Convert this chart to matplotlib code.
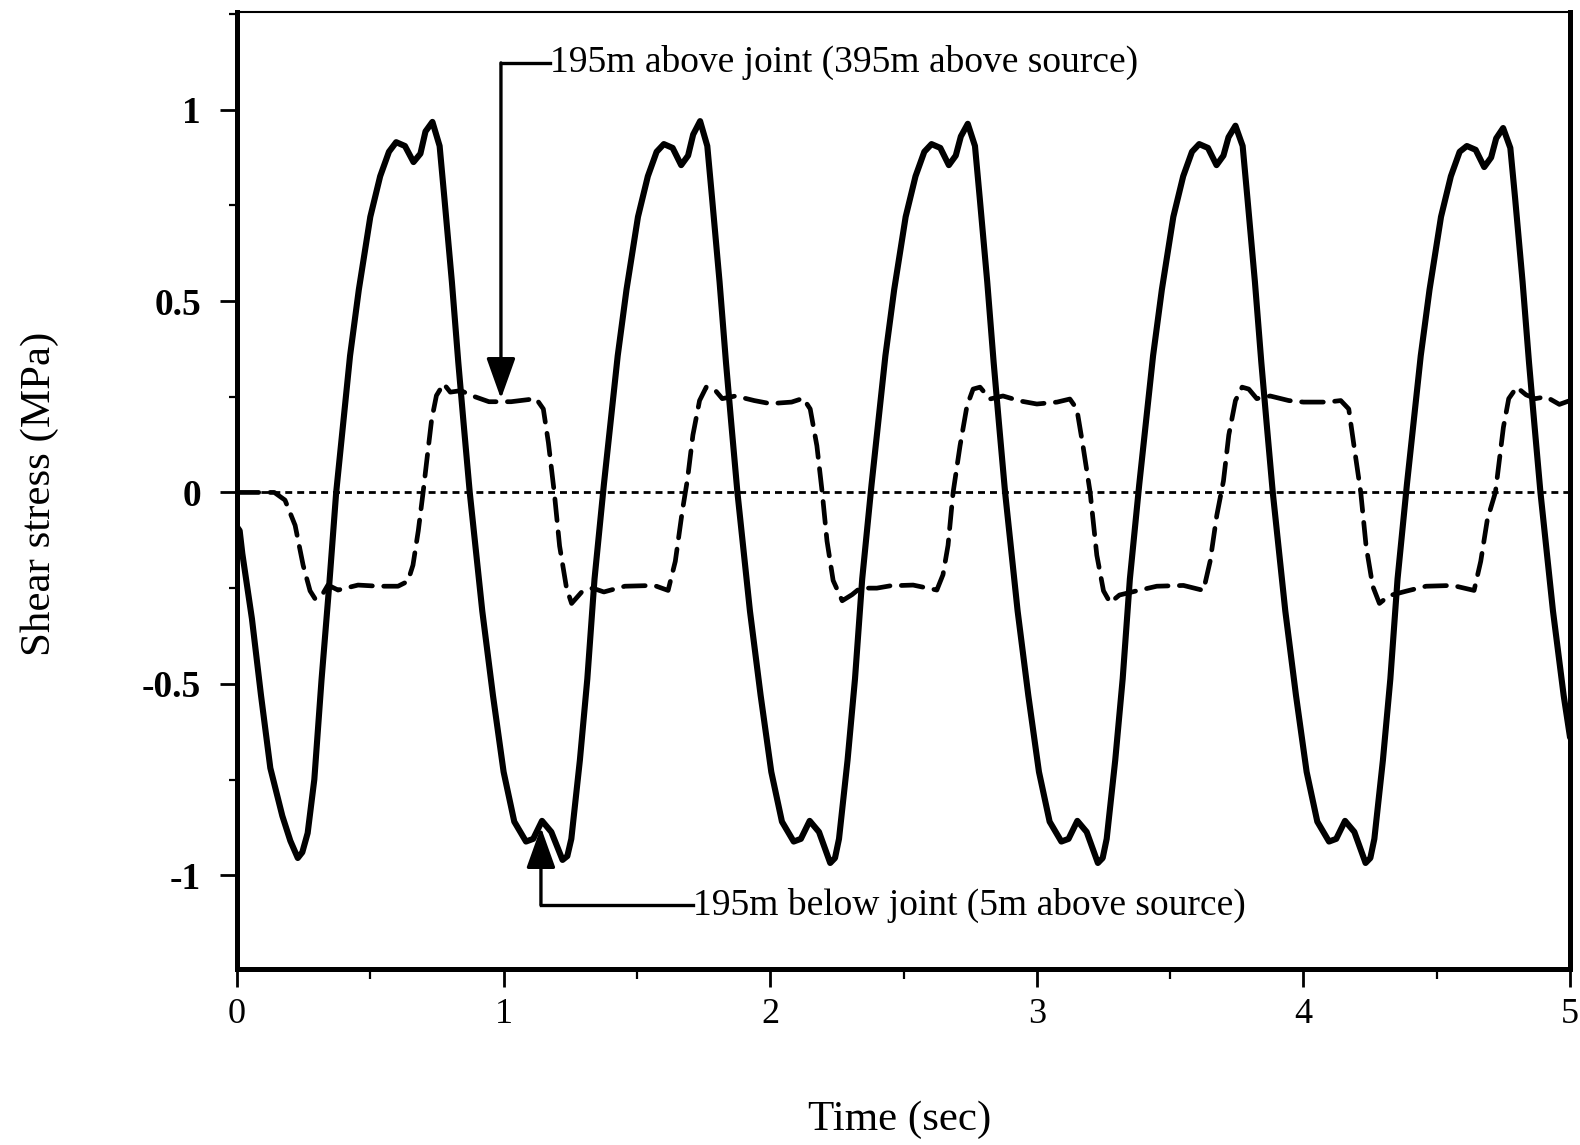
import matplotlib
matplotlib.use("Agg")
import matplotlib.pyplot as plt
from matplotlib.ticker import MultipleLocator

plt.rcParams['font.family'] = ['Liberation Serif', 'DejaVu Serif']

# ---------------- data ----------------
# Solid curve: 195m below joint (5m above source)
solid_t_0 = [0.0, 0.01, 0.02, 0.056, 0.09, 0.125, 0.17, 0.20, 0.228, 0.245, 0.265, 0.29, 0.317, 0.345,
             0.372, 0.424, 0.457, 0.50, 0.537, 0.57, 0.597, 0.63, 0.662, 0.688, 0.707, 0.733, 0.76,
             0.778, 0.806, 0.83, 0.85, 0.873, 0.92, 0.96, 1.00, 1.04]
solid_v_0 = [-0.09, -0.10, -0.16, -0.33, -0.53, -0.72, -0.845, -0.91, -0.955, -0.94, -0.89, -0.75, -0.49, -0.25,
             0.0, 0.357, 0.53, 0.72, 0.826, 0.89, 0.915, 0.905, 0.863, 0.885, 0.943, 0.968, 0.905,
             0.768, 0.55, 0.34, 0.18, 0.0, -0.31, -0.53, -0.73, -0.86]
solid_t_1 = [1.084, 1.111, 1.144, 1.179, 1.221, 1.239, 1.254, 1.286, 1.314, 1.341, 1.376, 1.428, 1.461,
             1.504, 1.541, 1.574, 1.601, 1.634, 1.666, 1.692, 1.711, 1.737, 1.764, 1.782, 1.81, 1.834,
             1.854, 1.877, 1.924, 1.964, 2.004, 2.044]
solid_v_1 = [-0.912, -0.905, -0.858, -0.887, -0.96, -0.95, -0.905, -0.70, -0.487, -0.226, 0.02, 0.357, 0.53,
             0.72, 0.826, 0.89, 0.91, 0.90, 0.855, 0.88, 0.935, 0.97, 0.905, 0.768, 0.55, 0.34,
             0.18, 0.0, -0.31, -0.53, -0.73, -0.86]
solid_t_2 = [2.088, 2.115, 2.148, 2.183, 2.225, 2.243, 2.258, 2.29, 2.318, 2.345, 2.38, 2.432, 2.465,
             2.508, 2.545, 2.578, 2.605, 2.638, 2.67, 2.696, 2.715, 2.741, 2.768, 2.786, 2.814, 2.838,
             2.858, 2.881, 2.928, 2.968, 3.008, 3.048]
solid_v_2 = [-0.912, -0.905, -0.858, -0.887, -0.968, -0.955, -0.905, -0.70, -0.487, -0.226, 0.02, 0.357, 0.53,
             0.72, 0.826, 0.89, 0.91, 0.90, 0.855, 0.88, 0.93, 0.963, 0.905, 0.768, 0.55, 0.34,
             0.18, 0.0, -0.31, -0.53, -0.73, -0.86]
solid_t_3 = [3.092, 3.119, 3.152, 3.187, 3.229, 3.247, 3.262, 3.294, 3.322, 3.349, 3.384, 3.436, 3.469,
             3.512, 3.549, 3.582, 3.609, 3.642, 3.674, 3.70, 3.719, 3.745, 3.772, 3.79, 3.818, 3.842,
             3.862, 3.885, 3.932, 3.972, 4.012, 4.052]
solid_v_3 = [-0.912, -0.905, -0.858, -0.887, -0.968, -0.955, -0.905, -0.70, -0.487, -0.226, 0.02, 0.357, 0.53,
             0.72, 0.826, 0.89, 0.91, 0.90, 0.855, 0.88, 0.928, 0.958, 0.905, 0.768, 0.55, 0.34,
             0.18, 0.0, -0.31, -0.53, -0.73, -0.86]
solid_t_4 = [4.096, 4.123, 4.156, 4.191, 4.233, 4.251, 4.266, 4.298, 4.326, 4.353, 4.388, 4.44, 4.473,
             4.516, 4.553, 4.586, 4.613, 4.646, 4.678, 4.704, 4.723, 4.749, 4.776, 4.794, 4.822, 4.846,
             4.866, 4.889, 4.936, 4.976, 5.0]
solid_v_4 = [-0.912, -0.905, -0.858, -0.887, -0.968, -0.955, -0.905, -0.70, -0.487, -0.226, 0.02, 0.357, 0.53,
             0.72, 0.826, 0.89, 0.905, 0.895, 0.85, 0.875, 0.925, 0.952, 0.9, 0.768, 0.55, 0.34,
             0.18, 0.0, -0.31, -0.53, -0.64]

# Dashed curve: 195m above joint (395m above source)
dash_t_0 = [0.0, 0.14, 0.18, 0.218, 0.248, 0.274, 0.293, 0.319, 0.341, 0.379, 0.454, 0.53, 0.604, 0.641,
            0.66, 0.68, 0.698, 0.713, 0.73, 0.748, 0.775, 0.80, 0.84, 0.88, 0.945, 1.028, 1.122, 1.149, 1.168]
dash_v_0 = [0.0, 0.0, -0.02, -0.086, -0.19, -0.257, -0.278, -0.268, -0.242, -0.255, -0.242, -0.245, -0.245, -0.232,
            -0.19, -0.10, 0.0, 0.09, 0.19, 0.253, 0.284, 0.262, 0.266, 0.253, 0.237, 0.237, 0.245, 0.218, 0.13]
dash_t_1 = [1.19, 1.21, 1.236, 1.255, 1.293, 1.334, 1.376, 1.455, 1.565, 1.617, 1.644, 1.67, 1.69, 1.71,
            1.735, 1.76, 1.79, 1.82, 1.87, 1.94, 2.0, 2.08, 2.124, 2.15, 2.175]
dash_v_1 = [0.0, -0.14, -0.25, -0.29, -0.26, -0.25, -0.26, -0.245, -0.243, -0.256, -0.18, -0.05, 0.036, 0.15,
            0.24, 0.275, 0.27, 0.245, 0.252, 0.24, 0.232, 0.236, 0.246, 0.218, 0.122]
dash_t_2 = [2.195, 2.213, 2.236, 2.27, 2.307, 2.337, 2.4, 2.45, 2.536, 2.625, 2.648, 2.667, 2.686, 2.712,
            2.738, 2.761, 2.787, 2.824, 2.873, 2.937, 3.0, 3.076, 3.124, 3.15, 3.173]
dash_v_2 = [0.0, -0.127, -0.23, -0.283, -0.267, -0.25, -0.25, -0.244, -0.242, -0.255, -0.215, -0.138, 0.0, 0.122,
            0.226, 0.27, 0.275, 0.244, 0.252, 0.239, 0.231, 0.236, 0.244, 0.218, 0.122]
dash_t_3 = [3.2, 3.225, 3.25, 3.275, 3.31, 3.375, 3.45, 3.55, 3.625, 3.65, 3.675, 3.70, 3.72, 3.745,
            3.77, 3.795, 3.825, 3.875, 3.945, 4.0, 4.09, 4.14, 4.17, 4.19]
dash_v_3 = [0.0, -0.164, -0.257, -0.288, -0.268, -0.257, -0.245, -0.243, -0.256, -0.18, -0.06, 0.03, 0.15, 0.24,
            0.275, 0.27, 0.245, 0.252, 0.24, 0.236, 0.236, 0.24, 0.218, 0.12]
dash_t_4 = [4.215, 4.235, 4.26, 4.285, 4.32, 4.385, 4.46, 4.56, 4.64, 4.665, 4.69, 4.72, 4.75, 4.77,
            4.80, 4.835, 4.87, 4.91, 4.96, 5.0]
dash_v_4 = [0.0, -0.14, -0.245, -0.29, -0.27, -0.258, -0.245, -0.243, -0.256, -0.18, -0.07, 0.0, 0.17, 0.245,
            0.275, 0.255, 0.245, 0.25, 0.23, 0.24]

zero_t = [0.0, 5.0]
zero_v = [0.0, 0.0]

x_ticks = [0, 1, 2, 3, 4, 5]
x_tick_labels = ["0", "1", "2", "3", "4", "5"]
y_ticks = [-1, -0.5, 0, 0.5, 1]
y_tick_labels = ["-1", "-0.5", "0", "0.5", "1"]

label_above = "195m above joint (395m above source)"
label_below = "195m below joint (5m above source)"
x_label = "Time (sec)"
y_label = "Shear stress (MPa)"

# ---------------- figure ----------------
solid_t = solid_t_0 + solid_t_1 + solid_t_2 + solid_t_3 + solid_t_4
solid_v = solid_v_0 + solid_v_1 + solid_v_2 + solid_v_3 + solid_v_4
dash_t = dash_t_0 + dash_t_1 + dash_t_2 + dash_t_3 + dash_t_4
dash_v = dash_v_0 + dash_v_1 + dash_v_2 + dash_v_3 + dash_v_4

fig = plt.figure(figsize=(15.8, 11.45), dpi=100)
ax = fig.add_axes([0.15, 0.1537, 0.8437, 0.8358])

ax.plot(zero_t, zero_v, color='black', lw=2.0, dashes=(2.5, 1.8))
ax.plot(dash_t, dash_v, color='black', lw=3.4, dashes=(4.6, 2.4), dash_capstyle='round',
        dash_joinstyle='round')
ax.plot(solid_t, solid_v, color='black', lw=4.4, solid_joinstyle='round', solid_capstyle='round')

ax.set_xlim(0, 5)
ax.set_ylim(-1.245, 1.255)

ax.set_xticks(x_ticks)
ax.set_xticklabels(x_tick_labels)
ax.set_yticks(y_ticks)
ax.set_yticklabels(y_tick_labels)
ax.xaxis.set_minor_locator(MultipleLocator(0.5))
ax.yaxis.set_minor_locator(MultipleLocator(0.25))
ax.tick_params(axis='x', which='major', direction='out', length=13, width=2, labelsize=26, pad=8)
ax.tick_params(axis='x', which='minor', direction='out', length=7, width=1.6)
ax.tick_params(axis='y', which='major', direction='out', length=12, width=2, labelsize=27, pad=14)
ax.tick_params(axis='y', which='minor', direction='out', length=6, width=1.6)
for lab in ax.get_yticklabels():
    lab.set_fontweight('bold')

for side in ['left', 'bottom', 'right']:
    ax.spines[side].set_linewidth(3.6)
ax.spines['top'].set_linewidth(1.5)

# annotations
ax.plot([1.175, 0.99], [1.122, 1.122], color='black', lw=2.4, clip_on=False)
ax.annotate('', xy=(0.99, 0.245), xytext=(0.99, 1.122),
            arrowprops=dict(arrowstyle='-|>,head_length=1.4,head_width=0.5', color='black',
                            lw=2.4, mutation_scale=18, shrinkA=0, shrinkB=0))
ax.text(1.175, 1.122, label_above, fontsize=27, ha='left', va='center')

ax.plot([1.71, 1.14], [-1.078, -1.078], color='black', lw=2.4, clip_on=False)
ax.annotate('', xy=(1.14, -0.875), xytext=(1.14, -1.078),
            arrowprops=dict(arrowstyle='-|>,head_length=1.4,head_width=0.5', color='black',
                            lw=2.4, mutation_scale=18, shrinkA=0, shrinkB=0))
ax.text(1.71, -1.078, label_below, fontsize=27, ha='left', va='center')

fig.text(900 / 1580, 1 - 1120 / 1145, x_label, ha='center', va='center', fontsize=31)
fig.text(40 / 1580, 1 - 494 / 1145, y_label, ha='center', va='center', rotation=90, fontsize=31)

fig.savefig("out.png", dpi=100)
